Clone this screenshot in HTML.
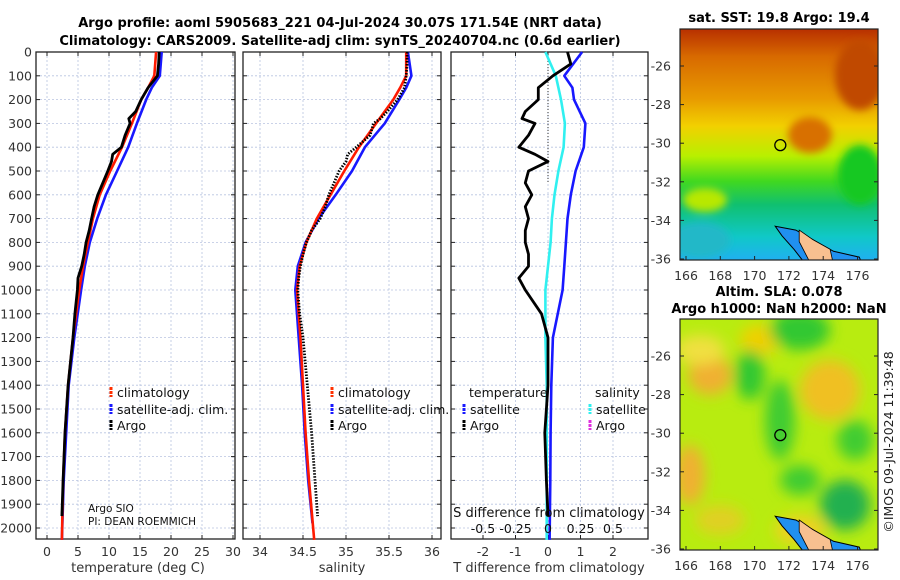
<!DOCTYPE html>
<html><head><meta charset="utf-8">
<style>
body{margin:0;background:#fff;}
svg{display:block;font-family:"DejaVu Sans","Liberation Sans",sans-serif;}
</style></head>
<body>
<svg id="c" width="900" height="580" viewBox="0 0 900 580">
<defs>
<filter id="bl" x="-20%" y="-20%" width="140%" height="140%"><feGaussianBlur stdDeviation="7"/></filter>
<filter id="bl2" x="-20%" y="-20%" width="140%" height="140%"><feGaussianBlur stdDeviation="4"/></filter>
<linearGradient id="sstg" x1="0" y1="0" x2="0" y2="1">
<stop offset="0" stop-color="#b83000"/><stop offset="0.12" stop-color="#d86a00"/>
<stop offset="0.3" stop-color="#e89a00"/><stop offset="0.42" stop-color="#f2d000"/>
<stop offset="0.55" stop-color="#b8f000"/><stop offset="0.66" stop-color="#40d820"/>
<stop offset="0.76" stop-color="#10c070"/><stop offset="0.9" stop-color="#10c8c8"/>
<stop offset="1" stop-color="#20b0f0"/></linearGradient>
<clipPath id="m1c"><rect x="680" y="29" width="198" height="231"/></clipPath>
<clipPath id="m2c"><rect x="680" y="319" width="198" height="231"/></clipPath>
</defs>
<g id="titles" font-weight="bold" font-size="13" text-anchor="middle">
<text x="340" y="27">Argo profile: aoml 5905683_221 04-Jul-2024 30.07S 171.54E (NRT data)</text>
<text x="340" y="45">Climatology: CARS2009. Satellite-adj clim: synTS_20240704.nc (0.6d earlier)</text>
</g>
<g id="p1"></g>
<g id="p2"></g>
<g id="p3"></g>
<g id="m1"></g>
<g id="m2"></g>
</svg>
<script>
// ---- data ----
const depthTicks=[0,100,200,300,400,500,600,700,800,900,1000,1100,1200,1300,1400,1500,1600,1700,1800,1900,2000];
const tempTicks=[0,5,10,15,20,25,30];
const salTicks=[34,34.5,35,35.5,36];
const tdiffTicks=[-2,-1,0,1,2];
const sdiffTicks=[-0.5,-0.25,0,0.25,0.5];
const climDepth=[0,100,150,200,300,400,500,600,700,800,900,1000,1200,1400,1600,1800,2050];
const climTemp=[17.6,17.3,16.3,15.2,13.7,12.1,10.2,8.5,7.4,6.6,5.8,5.2,4.2,3.4,2.9,2.6,2.4];
const satTemp=[18.5,18.2,16.9,16.0,14.5,13.1,11.3,9.5,8.1,6.9,6.1,5.5,4.4,3.5,3.1,2.7,2.4];
const argoDepth=[0,50,100,150,200,250,280,300,350,400,430,460,500,550,600,650,700,750,800,850,900,950,1000,1100,1200,1400,1600,1800,1950];
const argoTemp=[18.1,18.0,17.8,16.3,15.2,14.3,13.2,13.4,12.6,12.0,10.6,10.4,9.8,9.0,8.2,7.6,7.2,6.8,6.3,6.0,5.6,5.0,4.9,4.5,4.2,3.4,2.9,2.6,2.4];
const climSal=[35.70,35.70,35.63,35.55,35.35,35.15,34.98,34.82,34.66,34.54,34.46,34.43,34.47,34.50,34.53,34.57,34.63];
const satSalDepth=[0,100,150,200,300,400,500,600,700,800,900,1000,1200,1400,1600,1800,1980];
const satSal=[35.72,35.76,35.70,35.62,35.45,35.22,35.07,34.88,34.68,34.53,34.44,34.41,34.45,34.49,34.52,34.56,34.61];
const argoSal=[35.71,35.71,35.70,35.68,35.60,35.48,35.40,35.32,35.28,35.12,35.02,35.0,34.92,34.86,34.80,34.76,34.70,34.60,34.54,34.50,34.47,34.45,34.44,34.46,34.50,34.55,34.60,34.64,34.67];
const tDiffArgo=[0.6,0.7,0.15,-0.3,-0.3,-0.7,-0.8,-0.4,-0.6,-0.9,-0.4,0,-0.6,-0.7,-0.5,-0.7,-0.6,-0.7,-0.7,-0.6,-0.6,-0.9,-0.7,-0.2,0,0,-0.1,-0.05,0];
const tDiffSat=[1.05,0.5,0.75,0.8,1.15,1.1,0.85,0.7,0.6,0.55,0.5,0.45,0.15,0.1,0.08,0.07,0.05];
const sDiffSat=[-0.02,0.06,0.08,0.1,0.13,0.12,0.08,0.05,0.03,0.02,0.0,-0.02,-0.02,-0.01,-0.01,-0.01,-0.01];
// ---- helpers ----
const NS="http://www.w3.org/2000/svg";
function mk(par,tag,at,txt){const e=document.createElementNS(NS,tag);for(const k in at)e.setAttribute(k,at[k]);if(txt!==undefined)e.textContent=txt;par.appendChild(e);return e;}
const Y=d=>52+d*0.238;
const pTop=52,pBot=539;
function frame(g,x0,x1,xticks,xf,labelFmt,leftLabels){
  for(const d of depthTicks){const l=mk(g,'line',{x1:x0,x2:x1,y1:Y(d),y2:Y(d),stroke:'#b8c4e0','stroke-dasharray':'2,2','stroke-width':0.8});}
  for(const t of xticks){const x=xf(t);const l=mk(g,'line',{x1:x,x2:x,y1:pTop,y2:pBot,stroke:'#b8c4e0','stroke-dasharray':'2,2','stroke-width':0.8});
    mk(g,'line',{x1:x,x2:x,y1:pBot,y2:pBot-4,stroke:'#222'});mk(g,'line',{x1:x,x2:x,y1:pTop,y2:pTop+4,stroke:'#222'});
    if(labelFmt){const tx=mk(g,'text',{x:x,y:556,'font-size':12.5,'text-anchor':'middle',fill:'#333'},labelFmt(t));}}
  for(const d of depthTicks){mk(g,'line',{x1:x0,x2:x0+4,y1:Y(d),y2:Y(d),stroke:'#222'});mk(g,'line',{x1:x1,x2:x1-4,y1:Y(d),y2:Y(d),stroke:'#222'});
    if(leftLabels){const tx=mk(g,'text',{x:32,y:Y(d)+4.5,'font-size':12.5,'text-anchor':'end',fill:'#333'},String(d));}}
  const r=mk(g,'rect',{x:x0,y:pTop,width:x1-x0,height:pBot-pTop,fill:'none',stroke:'#222','stroke-width':1.3});
  
}
function line(g,xs,ds,xf,col,w,name,dash){
  const p=xs.map((v,i)=>xf(v).toFixed(1)+','+Y(ds[i]).toFixed(1)).join(' ');
  const a={points:p,fill:'none',stroke:col,'stroke-width':w,'stroke-linejoin':'round'};if(dash)a['stroke-dasharray']=dash;
  const e=mk(g,'polyline',a);return e;
}
function leg(g,x,y,col,label,name,dash){
  const a={x1:x,x2:x,y1:y-5,y2:y+5,stroke:col,'stroke-width':3};if(dash)a['stroke-dasharray']=dash;
  mk(g,'line',a);
  const t=mk(g,'text',{x:x+6,y:y+5,'font-size':12.5,fill:'#111'},label);
  
}
// ---- panel 1 ----
const p1=document.getElementById('p1');
const xT=t=>47+t*6.2;
frame(p1,36,235,tempTicks,xT,t=>String(t),true);
line(p1,satTemp,climDepth,xT,'#1818ff',2.6,'satellite-temp-line');
line(p1,climTemp,climDepth,xT,'#ff1a00',2.6,'climatology-temp-line');
line(p1,argoTemp,argoDepth,xT,'#000',2.8,'argo-temp-line');
mk(p1,'text',{x:138,y:572,'font-size':13,'text-anchor':'middle',fill:'#333'},'temperature (deg C)');
leg(p1,111,392,'#ff3000','climatology','legend-climatology','3,1');
leg(p1,111,409,'#1818ff','satellite-adj. clim.','legend-satellite','3,1');
leg(p1,111,425,'#000','Argo','legend-argo','3,1');
mk(p1,'text',{x:88,y:512,'font-size':10.5,fill:'#111'},'Argo SIO');
mk(p1,'text',{x:88,y:525,'font-size':10.5,fill:'#111'},'PI: DEAN ROEMMICH');
// ---- panel 2 ----
const p2=document.getElementById('p2');
const xS=s=>260+(s-34)*86;
frame(p2,243,441,salTicks,xS,s=>String(s),false);
line(p2,satSal,satSalDepth,xS,'#1818ff',2.6,'satellite-salinity-line');
line(p2,climSal,climDepth,xS,'#ff1a00',2.6,'climatology-salinity-line');
line(p2,argoSal,argoDepth,xS,'#000',2.8,'argo-salinity-line','1.5,1.5');
mk(p2,'text',{x:342,y:572,'font-size':13,'text-anchor':'middle',fill:'#333'},'salinity');
leg(p2,332,392,'#ff3000','climatology','legend-climatology','3,1');
leg(p2,332,409,'#1818ff','satellite-adj. clim.','legend-satellite','3,1');
leg(p2,332,425,'#000','Argo','legend-argo','3,1');
// ---- panel 3 ----
const p3=document.getElementById('p3');
const xD=t=>548+t*32.5;
const xSd=s=>548+s*130;
frame(p3,451,648,tdiffTicks,xD,t=>String(t),false);
mk(p3,'line',{x1:548,x2:548,y1:pTop,y2:Y(550),stroke:'#333','stroke-dasharray':'1,2'});
line(p3,tDiffSat,climDepth,xD,'#1818ff',2.6,'satellite-tdiff-line');
line(p3,sDiffSat,climDepth,xSd,'#30f0f0',2.6,'satellite-sdiff-line');
line(p3,tDiffArgo,argoDepth,xD,'#000',2.8,'argo-tdiff-line');
for(const s of sdiffTicks){const t=mk(p3,'text',{x:xSd(s),y:533,'font-size':12.5,'text-anchor':'middle',fill:'#111'},String(s));}
mk(p3,'text',{x:549,y:517,'font-size':13,'text-anchor':'middle',fill:'#111'},'S difference from climatology');
mk(p3,'text',{x:549,y:572,'font-size':13,'text-anchor':'middle',fill:'#333'},'T difference from climatology');
mk(p3,'text',{x:469,y:397,'font-size':12.5,fill:'#111'},'temperature');
mk(p3,'text',{x:595,y:397,'font-size':12.5,fill:'#111'},'salinity');
leg(p3,464,409,'#1818ff','satellite','legend-t-satellite','3,1');
leg(p3,464,425,'#000','Argo','legend-t-argo','3,1');
leg(p3,590,409,'#30f0f0','satellite','legend-s-satellite','3,1');
leg(p3,590,425,'#e030e0','Argo','legend-s-argo','3,1');
// ---- maps ----
const lonX=l=>686+(l-166)*17.15;
function mapAxes(g,y0,latToY){
  mk(g,'rect',{x:680,y:y0,width:198,height:231,fill:'none',stroke:'#222','stroke-width':1.2});
  for(const l of [166,168,170,172,174,176]){const x=lonX(l);mk(g,'line',{x1:x,x2:x,y1:y0+231,y2:y0+227,stroke:'#222'});
    mk(g,'text',{x:x,y:y0+251,'font-size':12.5,'text-anchor':'middle',fill:'#333'},String(l));}
  for(const la of [-26,-28,-30,-32,-34,-36]){const y=latToY(la);mk(g,'line',{x1:680,x2:684,y1:y,y2:y,stroke:'#222'});mk(g,'line',{x1:878,x2:874,y1:y,y2:y,stroke:'#222'});
    mk(g,'text',{x:671,y:y+4.5,'font-size':12.5,'text-anchor':'end',fill:'#333'},String(la));}
}
function land(g,latToY){
  const P=(pts)=>pts.map(p=>lonX(p[0]).toFixed(1)+','+latToY(p[1]).toFixed(1)).join(' ');
  mk(g,'polygon',{points:P([[171.2,-34.3],[172.4,-34.5],[173.6,-35.1],[174.6,-35.6],[176.1,-35.9],[176.3,-36.3],[173,-36.3],[172.3,-35.5],[171.6,-34.8]]),fill:'#2090f0',stroke:'#000','stroke-width':1});
  mk(g,'polygon',{points:P([[172.6,-34.5],[173.4,-35.0],[174.4,-35.5],[174.6,-36.3],[173.3,-36.3],[172.6,-35.1]]),fill:'#f8c090',stroke:'#000','stroke-width':0.8});
  mk(g,'ellipse',{cx:lonX(171.5),cy:latToY(-30.1),rx:5.5,ry:5.5,fill:'none',stroke:'#000','stroke-width':1.3});
}
const m1=document.getElementById('m1');
const lat1=la=>66+(-26-la)*19.3;
mk(m1,'text',{x:779,y:22,'font-size':13,'font-weight':'bold','text-anchor':'middle'},'sat. SST: 19.8 Argo: 19.4');
const g1=mk(m1,'g',{'clip-path':'url(#m1c)'});
mk(g1,'rect',{x:680,y:29,width:198,height:231,fill:'url(#sstg)'});
const fb1=mk(g1,'g',{filter:'url(#bl2)'});
mk(fb1,'ellipse',{cx:860,cy:75,rx:25,ry:35,fill:'#c04a00'});
mk(fb1,'ellipse',{cx:810,cy:135,rx:22,ry:18,fill:'#d87000'});
mk(fb1,'ellipse',{cx:860,cy:175,rx:22,ry:30,fill:'#18c820'});
mk(fb1,'ellipse',{cx:705,cy:200,rx:22,ry:12,fill:'#b8e800'});
mk(fb1,'ellipse',{cx:700,cy:240,rx:30,ry:18,fill:'#20b8c8'});
land(g1,lat1);
mapAxes(m1,29,lat1);
const m2=document.getElementById('m2');
const lat2=la=>356+(-26-la)*19.3;
mk(m2,'text',{x:779,y:296,'font-size':13,'font-weight':'bold','text-anchor':'middle'},'Altim. SLA: 0.078');
mk(m2,'text',{x:779,y:313,'font-size':13,'font-weight':'bold','text-anchor':'middle'},'Argo h1000: NaN h2000: NaN');
const g2=mk(m2,'g',{'clip-path':'url(#m2c)'});
mk(g2,'rect',{x:680,y:319,width:198,height:231,fill:'#b8ec10'});
const fb2=mk(g2,'g',{filter:'url(#bl)'});
for(const b of [[710,375,22,20,'#f0b030'],[830,390,30,30,'#f0c020'],[690,475,15,30,'#f0b030'],[760,340,20,15,'#f0d000'],[800,330,30,20,'#30c830'],[750,375,15,25,'#30c830'],[780,420,15,40,'#40cc30'],[855,440,18,20,'#40cc30'],[845,505,25,25,'#20b050'],[800,480,20,15,'#40cc30'],[720,520,25,15,'#e0d020'],[700,350,25,15,'#f0e040'],[800,530,25,15,'#f0d020']])mk(fb2,'ellipse',{cx:b[0],cy:b[1],rx:b[2],ry:b[3],fill:b[4]});
land(g2,lat2);
mapAxes(m2,319,lat2);
const ts=mk(document.getElementById('c'),'text',{x:0,y:0,'font-size':12.5,'text-anchor':'middle',fill:'#222',transform:'translate(893,442) rotate(-90)'},'©IMOS 09-Jul-2024 11:39:48');


</script>
</body></html>
